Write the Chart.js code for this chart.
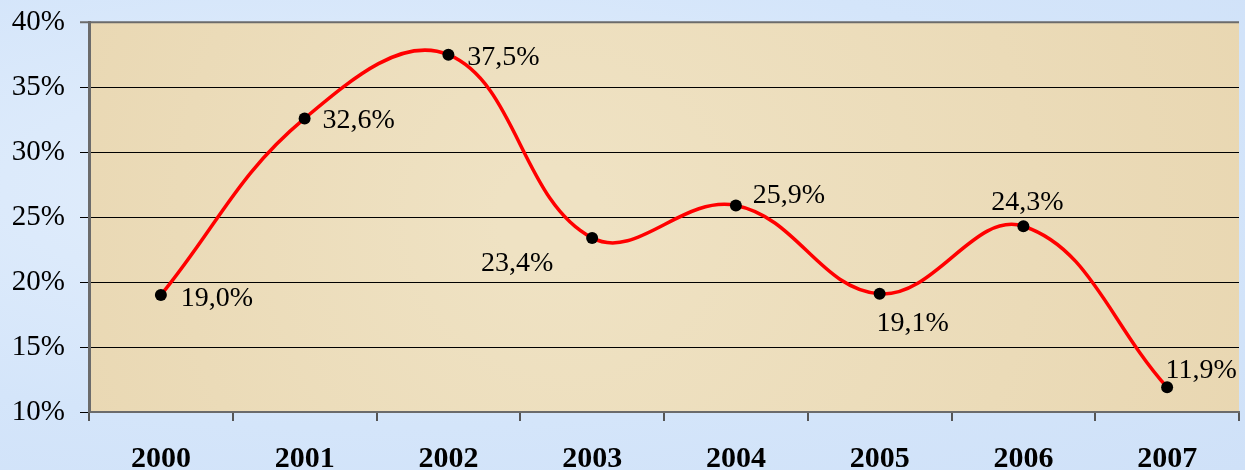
<!DOCTYPE html>
<html>
<head>
<meta charset="utf-8">
<script src="https://cdn.jsdelivr.net/npm/chart.js@4/dist/chart.umd.min.js"></script>
<style>
  html, body { margin: 0; padding: 0; }
  body {
    width: 1245px;
    height: 470px;
    background: radial-gradient(ellipse at 30% 40%, #e4effc 0%, #d4e5fa 60%, #cfe1f8 100%);
  }
  .wrap { position: relative; width: 1245px; height: 470px; }
</style>
</head>
<body>
<div class="wrap"><canvas id="chart" width="1245" height="470"></canvas></div>
<script>
const years = ['2000', '2001', '2002', '2003', '2004', '2005', '2006', '2007'];
const shares = [19.0, 32.6, 37.5, 23.4, 25.9, 19.1, 24.3, 11.9];
const yTicks = [10, 15, 20, 25, 30, 35, 40];

// where each value label sits relative to its point (px)
const labelOffsets = [
  [56, 4], [54, 2], [55, 3], [-75, 26],
  [53, -10], [33, 30], [4, -24], [34, -17],
];

const SERIF = '"Liberation Serif", "Times New Roman", serif';

const formatPct = v => v.toFixed(1).replace('.', ',') + '%';

const plotBackground = {
  id: 'plotBackground',
  beforeDraw(chart) {
    const { ctx, chartArea: a } = chart;
    ctx.save();
    const g = ctx.createRadialGradient(
      a.left + a.width * 0.4, a.top + a.height * 0.5, 50,
      a.left + a.width * 0.5, a.top + a.height * 0.5, a.width * 0.7,
    );
    g.addColorStop(0, '#efe2c3');
    g.addColorStop(1, '#e7d4ad');
    ctx.fillStyle = g;
    ctx.fillRect(a.left, a.top, a.width, a.height);
    ctx.restore();
  },
};

const valueLabels = {
  id: 'valueLabels',
  afterDatasetsDraw(chart) {
    const { ctx } = chart;
    const meta = chart.getDatasetMeta(0);
    ctx.save();
    ctx.font = '28px ' + SERIF;
    ctx.fillStyle = '#000';
    ctx.textAlign = 'center';
    ctx.textBaseline = 'middle';
    meta.data.forEach((pt, i) => {
      const [dx, dy] = labelOffsets[i];
      ctx.fillText(formatPct(shares[i]), pt.x + dx, pt.y + dy);
    });
    ctx.restore();
  },
};

const edgeLines = {
  id: 'edgeLines',
  afterDraw(chart) {
    const { ctx, chartArea: a } = chart;
    ctx.save();
    ctx.strokeStyle = '#6b6b6b';
    ctx.lineWidth = 2;
    ctx.beginPath();
    ctx.moveTo(a.left - 9, a.top);
    ctx.lineTo(a.right, a.top);
    ctx.stroke();
    ctx.restore();
  },
};

new Chart(document.getElementById('chart'), {
  type: 'line',
  data: {
    labels: years,
    datasets: [
      {
        data: shares,
        borderColor: '#ff0000',
        borderWidth: 3.5,
        tension: 0.4,
        pointRadius: 6,
        pointBackgroundColor: '#000',
        pointBorderColor: '#000',
        pointBorderWidth: 0,
        fill: false,
      },
    ],
  },
  options: {
    responsive: false,
    animation: false,
    devicePixelRatio: 1,
    layout: { padding: { top: 22, right: 2, left: 0, bottom: 0 } },
    plugins: {
      legend: { display: false },
      tooltip: { enabled: false },
    },
    scales: {
      x: {
        offset: true,
        grid: {
          offset: true,
          drawOnChartArea: false,
          drawTicks: true,
          tickLength: 9,
          color: '#555',
          lineWidth: 2,
        },
        border: { color: '#6b6b6b', width: 2 },
        ticks: {
          color: '#000',
          font: { family: SERIF, size: 30, weight: 'bold' },
          padding: 20,
          maxRotation: 0,
          autoSkip: false,
        },
        afterFit: scale => {
          scale.height = 58;
          scale.paddingLeft = 0;
          scale.paddingRight = 0;
        },
      },
      y: {
        min: 10,
        max: 40,
        afterBuildTicks: scale => {
          scale.ticks = yTicks.map(v => ({ value: v }));
        },
        grid: {
          color: '#000',
          lineWidth: 1,
          drawTicks: true,
          tickLength: 9,
        },
        border: { color: '#6b6b6b', width: 3 },
        ticks: {
          color: '#000',
          font: { family: SERIF, size: 29, lineHeight: 0.5 },
          padding: 15,
          callback: v => v + '%',
        },
        afterFit: scale => {
          scale.width = 89;
        },
      },
    },
  },
  plugins: [plotBackground, valueLabels, edgeLines],
});
</script>
</body>
</html>
